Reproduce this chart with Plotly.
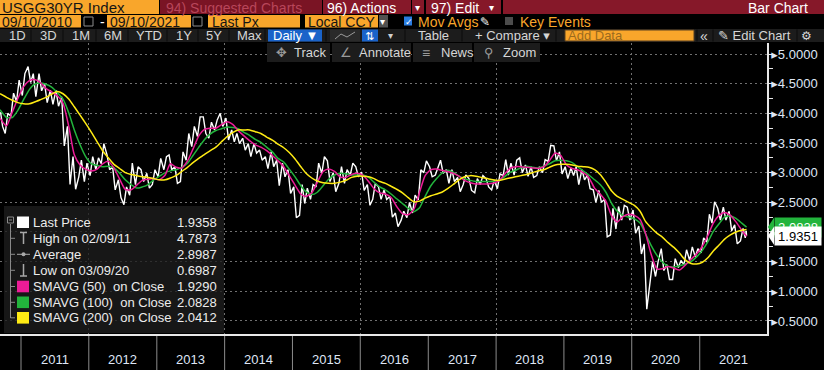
import plotly.graph_objects as go
import pandas as pd

# ---------------- data ----------------
months = [p.strftime("%Y-%m") for p in pd.period_range("2010-09", "2021-09", freq="M")]

px_high = [4.02, 4.00, 4.34, 4.56, 4.67, 4.7873, 4.67, 4.67, 4.50, 4.39, 4.39, 4.28,
           3.78, 3.27, 3.21, 3.16, 3.27, 3.25, 3.49, 3.30, 3.10, 2.88, 2.76, 3.16,
           3.10, 3.05, 2.99, 3.05, 3.24, 3.27, 3.30, 3.10, 3.35, 3.66, 3.78, 3.94,
           3.94, 3.85, 3.89, 4.00, 3.92, 3.72, 3.66, 3.58, 3.49, 3.49, 3.38, 3.27,
           3.35, 3.21, 3.16, 3.05, 2.76, 2.80, 2.74, 2.80, 3.16, 3.27, 3.20, 3.00,
           3.10, 3.05, 3.16, 3.10, 3.01, 2.80, 2.82, 2.76, 2.71, 2.60, 2.32, 2.35,
           2.50, 2.62, 3.05, 3.20, 3.10, 3.10, 3.21, 3.05, 3.05, 2.92, 2.96, 2.90,
           2.90, 2.95, 2.90, 2.87, 2.98, 3.22, 3.16, 3.21, 3.25, 3.13, 3.10, 3.10,
           3.22, 3.46, 3.45, 3.35, 3.10, 3.08, 3.10, 3.05, 2.96, 2.71, 2.70, 2.55,
           2.40, 2.43, 2.45, 2.42, 2.37, 2.10, 1.80, 1.50, 1.50, 1.72, 1.45, 1.55,
           1.52, 1.70, 1.75, 1.72, 1.90, 2.30, 2.51, 2.40, 2.42, 2.35, 2.12, 2.06,
           2.02]
px_low = [3.78, 3.66, 3.95, 4.20, 4.30, 4.52, 4.28, 4.38, 4.18, 4.15, 4.12, 3.45,
          2.80, 2.72, 2.93, 2.85, 2.95, 3.05, 3.15, 3.05, 2.71, 2.58, 2.46, 2.62,
          2.80, 2.85, 2.74, 2.80, 2.93, 3.05, 3.05, 2.82, 2.85, 3.21, 3.44, 3.61,
          3.66, 3.58, 3.72, 3.78, 3.55, 3.52, 3.49, 3.38, 3.27, 3.33, 3.21, 3.07,
          3.10, 2.78, 2.93, 2.65, 2.24, 2.28, 2.48, 2.55, 2.76, 2.99, 2.85, 2.68,
          2.82, 2.82, 2.96, 2.93, 2.70, 2.45, 2.55, 2.55, 2.55, 2.25, 2.09, 2.20,
          2.24, 2.32, 2.54, 3.00, 2.93, 2.96, 2.99, 2.82, 2.85, 2.68, 2.80, 2.70,
          2.66, 2.80, 2.76, 2.71, 2.73, 2.95, 2.96, 2.96, 3.00, 2.94, 2.92, 2.95,
          3.00, 3.19, 3.20, 2.98, 2.90, 2.95, 2.80, 2.88, 2.73, 2.50, 2.50, 1.92,
          1.95, 2.05, 2.20, 2.20, 1.98, 1.63, 0.6987, 1.18, 1.25, 1.35, 1.20, 1.20,
          1.40, 1.45, 1.52, 1.58, 1.65, 1.83, 2.15, 2.20, 2.20, 2.02, 1.80, 1.85,
          1.90]
last_date = "2021-09-10"
last_price = 1.9358

sma50 = [3.92, 3.79, 4.02, 4.25, 4.45, 4.55, 4.57, 4.52, 4.42, 4.36, 4.30, 4.17,
         3.78, 3.30, 3.13, 3.06, 3.03, 3.06, 3.15, 3.19, 3.08, 2.89, 2.72, 2.71,
         2.79, 2.87, 2.89, 2.90, 2.88, 2.96, 3.15, 3.09, 3.08, 3.20, 3.40, 3.62,
         3.73, 3.75, 3.75, 3.81, 3.86, 3.81, 3.71, 3.62, 3.54, 3.47, 3.43, 3.37,
         3.29, 3.20, 3.10, 2.95, 2.79, 2.64, 2.60, 2.66, 2.84, 3.02, 3.06, 3.02,
         2.93, 2.92, 2.97, 2.99, 2.96, 2.85, 2.73, 2.66, 2.64, 2.58, 2.43, 2.31,
         2.29, 2.38, 2.67, 2.95, 3.05, 3.06, 3.04, 3.02, 2.99, 2.94, 2.87, 2.83,
         2.81, 2.81, 2.81, 2.82, 2.86, 2.97, 3.07, 3.10, 3.10, 3.09, 3.08, 3.07,
         3.10, 3.20, 3.33, 3.29, 3.13, 3.07, 3.05, 3.00, 2.92, 2.74, 2.64, 2.52,
         2.27, 2.17, 2.26, 2.30, 2.28, 2.21, 1.98, 1.62, 1.38, 1.38, 1.42, 1.39,
         1.36, 1.44, 1.54, 1.63, 1.76, 1.95, 2.15, 2.28, 2.33, 2.28, 2.17, 2.03,
         1.929]
sma100 = [4.06, 3.93, 3.93, 4.05, 4.23, 4.40, 4.49, 4.51, 4.49, 4.44, 4.35, 4.24,
          4.01, 3.72, 3.47, 3.27, 3.15, 3.12, 3.10, 3.11, 3.08, 2.99, 2.88, 2.80,
          2.74, 2.76, 2.80, 2.88, 2.94, 3.00, 3.03, 3.05, 3.09, 3.16, 3.29, 3.43,
          3.56, 3.65, 3.71, 3.74, 3.77, 3.76, 3.74, 3.68, 3.63, 3.56, 3.51, 3.43,
          3.35, 3.24, 3.18, 3.06, 2.93, 2.78, 2.68, 2.63, 2.67, 2.78, 2.89, 2.96,
          2.99, 2.98, 2.96, 2.96, 2.96, 2.92, 2.84, 2.76, 2.71, 2.64, 2.56, 2.48,
          2.40, 2.34, 2.41, 2.60, 2.78, 2.90, 2.99, 3.04, 3.01, 2.94, 2.90, 2.87,
          2.85, 2.85, 2.85, 2.85, 2.87, 2.93, 3.00, 3.04, 3.08, 3.11, 3.09, 3.08,
          3.11, 3.15, 3.20, 3.21, 3.20, 3.17, 3.10, 3.03, 2.96, 2.88, 2.80, 2.67,
          2.48, 2.35, 2.28, 2.25, 2.22, 2.15, 1.97, 1.77, 1.61, 1.49, 1.42, 1.41,
          1.43, 1.46, 1.50, 1.58, 1.69, 1.84, 2.01, 2.14, 2.25, 2.27, 2.23, 2.15,
          2.0828]
sma200 = [4.33, 4.27, 4.22, 4.18, 4.16, 4.16, 4.19, 4.23, 4.27, 4.32, 4.37, 4.33,
          4.24, 4.11, 3.97, 3.83, 3.68, 3.52, 3.37, 3.25, 3.14, 3.07, 3.00, 2.97,
          2.95, 2.93, 2.92, 2.90, 2.88, 2.88, 2.91, 2.95, 3.02, 3.09, 3.17, 3.24,
          3.31, 3.37, 3.43, 3.52, 3.61, 3.68, 3.72, 3.72, 3.72, 3.69, 3.66, 3.60,
          3.55, 3.48, 3.42, 3.34, 3.23, 3.10, 2.99, 2.91, 2.86, 2.83, 2.82, 2.82,
          2.84, 2.87, 2.92, 2.94, 2.94, 2.93, 2.90, 2.85, 2.82, 2.77, 2.72, 2.66,
          2.58, 2.51, 2.52, 2.57, 2.61, 2.64, 2.67, 2.73, 2.80, 2.88, 2.93, 2.95,
          2.94, 2.92, 2.90, 2.88, 2.87, 2.89, 2.91, 2.93, 2.95, 2.97, 3.00, 3.03,
          3.05, 3.09, 3.13, 3.14, 3.14, 3.13, 3.11, 3.10, 3.09, 3.05, 2.97, 2.84,
          2.69, 2.60, 2.55, 2.50, 2.45, 2.35, 2.18, 2.07, 1.98, 1.91, 1.82, 1.74,
          1.64, 1.53, 1.47, 1.46, 1.49, 1.57, 1.68, 1.78, 1.88, 1.95, 2.00, 2.03,
          2.0412]

year_labels = [str(y) for y in range(2011, 2022)]
y_ticks = [0.5, 1.0, 1.5, 2.0, 2.5, 3.0, 3.5, 4.0, 4.5, 5.0]
grid_years = ["2012", "2014", "2016", "2018", "2020"]

legend_names = ["Last Price", "High on 02/09/11", "Average", "Low on 03/09/20",
                "SMAVG (50)\u00a0\u00a0on Close", "SMAVG (100)\u00a0\u00a0on Close",
                "SMAVG (200)\u00a0\u00a0on Close"]
legend_values = ["1.9358", "4.7873", "2.8987", "0.6987", "1.9290", "2.0828", "2.0412"]
axis_last_label = "1.9351"
axis_sma_label = "2.0828"
axis_last_value = 1.9351
axis_sma_value = 2.0828

# ---------------- styling ----------------
FONT = "Liberation Sans, Arial, DejaVu Sans, sans-serif"
ORANGE = "#F9A62B"
MAROON = "#861829"
C50, C100, C200 = "#EC1C97", "#22B43C", "#FFEB14"
TXT = "#dfe6f5"
W, H = 824, 370
PL, PR, PT, PB = 0, 767, 43, 334  # plot area in pixels
Y0, Y1 = 0.2807, 5.1854


def fx(x):
    return (x - PL) / (PR - PL)


def fy(y):
    return (PB - y) / (PB - PT)


shapes, annos = [], []


def rect(x0, y0, x1, y1, fill, line=None, lw=0):
    shapes.append(dict(type="rect", xref="paper", yref="paper",
                       x0=fx(x0), x1=fx(x1), y0=fy(y1), y1=fy(y0),
                       fillcolor=fill, line=dict(color=line or fill, width=lw),
                       layer="above"))


def seg(x0, y0, x1, y1, color, w=1, dash=None):
    shapes.append(dict(type="line", xref="paper", yref="paper",
                       x0=fx(x0), x1=fx(x1), y0=fy(y0), y1=fy(y1),
                       line=dict(color=color, width=w, dash=dash), layer="above"))


def poly(pts, fill):
    p = "M " + " L ".join(f"{fx(x)},{fy(y)}" for x, y in pts) + " Z"
    shapes.append(dict(type="path", xref="paper", yref="paper", path=p,
                       fillcolor=fill, line=dict(width=0), layer="above"))


def text(t, x, y, color, size=13, anchor="left"):
    annos.append(dict(xref="paper", yref="paper", x=fx(x), y=fy(y), text=t,
                      showarrow=False, xanchor=anchor, yanchor="middle",
                      font=dict(family=FONT, size=size, color=color)))


# ---------------- traces ----------------
n = len(months)
mids = [(h + l) / 2 for h, l in zip(px_high, px_low)]
price_x, price_y = [], []
for i, m in enumerate(months):
    start = pd.Timestamp(m + "-01")
    if i == 0:
        days = (12, 23)
    elif i == n - 1:
        days = (2, 7)
    else:
        days = (7, 21)
    prev_mid = mids[i - 1] if i > 0 else mids[i]
    next_mid = mids[i + 1] if i < n - 1 else mids[i]
    pair = (px_low[i], px_high[i]) if next_mid >= prev_mid else (px_high[i], px_low[i])
    for d, v in zip(days, pair):
        price_x.append(start + pd.Timedelta(days=d))
        price_y.append(v)
price_x.append(pd.Timestamp(last_date))
price_y.append(last_price)

ma_dates = ["2010-09-10"] + [m + "-15" for m in months[1:-1]] + [last_date]

fig = go.Figure()
fig.add_trace(go.Scatter(x=price_x, y=price_y, mode="lines",
                         line=dict(color="#ffffff", width=1.4), hoverinfo="skip"))
for vals, col in ((sma100, C100), (sma50, C50), (sma200, C200)):
    fig.add_trace(go.Scatter(x=ma_dates, y=vals, mode="lines",
                             line=dict(color=col, width=1.5, shape="spline", smoothing=0.6),
                             hoverinfo="skip"))

# ---------------- x axis decorations ----------------
for y in year_labels:
    shapes.append(dict(type="line", xref="x", yref="paper", x0=f"{y}-01-01", x1=f"{y}-01-01",
                       y0=-(H - PB) / (PB - PT), y1=-2 / (PB - PT),
                       line=dict(color="#8c8c8c", width=1), layer="above"))
    annos.append(dict(xref="x", yref="paper", x=f"{y}-07-02", y=0, yshift=-16,
                      text=y, showarrow=False, xanchor="center", yanchor="top",
                      font=dict(family=FONT, size=13, color=TXT)))

# ---------------- toolbar ----------------
# row 1
rect(0, 0, 159, 14, ORANGE)
rect(160, 0, 322, 14, "#7A1424")
rect(323, 0, 411, 14, MAROON)
rect(412, 0, 424, 14, MAROON)
rect(426, 0, 501, 14, MAROON)
rect(503, 0, 824, 14, MAROON)
text("USGG30YR Index", 0, 7.5, "#151515", 15)
text("94) Suggested Charts", 164, 7.5, "#b8465a", 14)
text("96) Actions", 325, 7.5, "#ffffff", 14)
text("▾", 413, 7.5, "#ffffff", 10)
text("97) Edit", 429, 7.5, "#ffffff", 14)
text("▾", 487, 7.5, "#ffffff", 10)
text("Bar Chart", 810, 7.5, "#ffffff", 14, anchor="right")
# row 2
rect(0, 15, 81, 27.5, ORANGE)
rect(107, 15, 191, 27.5, ORANGE)
rect(208, 15, 300, 27.5, ORANGE)
rect(305, 15, 378, 27.5, ORANGE)
rect(379, 15, 388, 27.5, "#505050")
rect(84, 17, 93, 26, "rgba(0,0,0,0)", "#8c8c8c", 1)
rect(193, 17, 202, 26, "rgba(0,0,0,0)", "#8c8c8c", 1)
rect(404, 16.5, 412, 25.5, "#2a7de1")
rect(505, 17, 513, 25, "#4c4c4c")
text("09/10/2010", 0, 21.5, "#151515", 14)
text("-", 98, 21.5, "#ffffff", 14)
text("09/10/2021", 108, 21.5, "#151515", 14)
text("Last Px", 210, 21.5, "#151515", 14)
text("Local CCY", 306, 21.5, "#151515", 14)
text("▾", 378, 21.5, "#ffffff", 10)
text("✓", 403, 21.5, "#ffffff", 9)
text("Mov Avgs", 416, 21.5, ORANGE, 14)
text("✎", 478, 21.5, "#ffffff", 12)
text("Key Events", 518, 21.5, ORANGE, 14)
# row 3
rect(0, 29, 824, 42, "#1c1c1c")
for lbl, x in (("1D", 7), ("3D", 38), ("1M", 70), ("6M", 102), ("YTD", 134),
               ("1Y", 174), ("5Y", 204), ("Max", 235)):
    text(lbl, x, 35.5, "#d6d6d6", 13)
rect(268, 29.5, 322, 41.5, "#1a63c9")
text("Daily ▼", 271, 35.5, "#ffffff", 13)
rect(330, 29.5, 360, 41.5, "#2a2a2a")
rect(362, 29.5, 378, 41.5, "#1a63c9")
text("⇅", 363, 35.5, "#ffffff", 11)
text("▾", 386, 35.5, "#cfcfcf", 10)
text("Table", 416, 35.5, "#d6d6d6", 13)
text("+ Compare ▾", 473, 35.5, "#d6d6d6", 13)
rect(565, 30, 694, 41, ORANGE, "#5a4020", 1)
text("Add Data", 566, 35.5, "#9a6a1e", 13)
text("«", 698, 35.5, "#d6d6d6", 14)
text("✎ Edit Chart", 716, 35.5, "#d6d6d6", 13)
text("⚙", 799, 35.5, "#d6d6d6", 12)
for xs in (31, 63, 96, 128, 167, 198, 229, 265, 326, 405, 462, 556, 697, 713, 797):
    seg(xs, 29.5, xs, 41.5, "#0a0a0a", 1)
shapes.append(dict(type="path", xref="paper", yref="paper",
                   path="M {},{} L {},{} L {},{} L {},{}".format(
                       fx(335), fy(39), fx(341), fy(34), fx(347), fy(37), fx(355), fy(32)),
                   line=dict(color="#9a9a9a", width=1), layer="above"))
# row 4 buttons
for x0, x1 in ((267, 330), (332, 411), (413, 472), (474, 540)):
    rect(x0, 43, x1, 62, "#1c1c1c")
text("✥", 274, 52.5, "#9a9a9a", 13)
text("Track", 292, 52.5, "#d6d6d6", 13)
text("∠", 338, 52.5, "#9a9a9a", 13)
text("Annotate", 357, 52.5, "#d6d6d6", 13)
text("≡", 420, 52.5, "#9a9a9a", 14)
text("News", 439, 52.5, "#d6d6d6", 13)
text("⚲", 482, 52.5, "#9a9a9a", 13)
text("Zoom", 501, 52.5, "#d6d6d6", 13)

# ---------------- legend box ----------------
rect(4, 206, 224, 333, "rgba(30,30,30,0.78)")
row_y = [222.3, 238.3, 254.3, 270.3, 286.5, 302.3, 317.8]
for nm, val, y in zip(legend_names, legend_values, row_y):
    text(nm, 31, y, "#ececec", 13)
    text(val, 219, y, "#ececec", 13, anchor="right")
rect(7.5, 217, 13.5, 223, "rgba(0,0,0,0)", "#8a8a8a", 1)
seg(9, 220, 12, 220, "#8a8a8a")
seg(10.5, 224, 10.5, 318, "#8a8a8a")
for y in row_y[1:]:
    seg(10.5, y, 15, y, "#8a8a8a")
rect(17, 216.5, 29, 228, "#ffffff")
seg(20, 232.5, 27, 232.5, "#a8a8a8", 1.5)
seg(23.5, 232.5, 23.5, 244, "#a8a8a8", 1.5)
seg(17, 254.3, 30, 254.3, "#a8a8a8", 1)
shapes.append(dict(type="circle", xref="paper", yref="paper", x0=fx(21.5), x1=fx(25.5),
                   y0=fy(256.3), y1=fy(252.3), fillcolor="#a8a8a8",
                   line=dict(width=0), layer="above"))
seg(23.5, 264, 23.5, 276, "#a8a8a8", 1.5)
seg(20, 276, 27, 276, "#a8a8a8", 1.5)
for col, y in ((C50, row_y[4]), (C100, row_y[5]), (C200, row_y[6])):
    rect(17, y - 5.8, 29, y + 5.8, col)


# ---------------- right axis value labels ----------------
def ypix(v):
    return PT + (Y1 - v) / (Y1 - Y0) * (PB - PT)


ys = ypix(axis_sma_value)
yl = ypix(axis_last_value)
poly([(768, ys), (774, ys - 9.5), (774, ys + 9.5)], C100)
poly([(768, yl), (774, yl - 9), (774, yl + 9)], "#ffffff")
annos.append(dict(xref="paper", yref="y", x=fx(773.5), y=axis_sma_value, text=axis_sma_label,
                  showarrow=False, xanchor="left", yanchor="middle", bgcolor=C100,
                  width=44, height=17, borderpad=1, align="center",
                  font=dict(family=FONT, size=13, color="#ffffff")))
annos.append(dict(xref="paper", yref="y", x=fx(773.5), y=axis_last_value, text=axis_last_label,
                  showarrow=False, xanchor="left", yanchor="middle", bgcolor="#ffffff",
                  width=44, height=16, borderpad=1, align="center",
                  font=dict(family=FONT, size=13, color="#000000")))

fig.update_layout(
    width=W, height=H, autosize=False,
    paper_bgcolor="#000000", plot_bgcolor="#000000",
    margin=dict(l=PL, r=W - PR, t=PT, b=H - PB, pad=0),
    showlegend=False, hovermode=False,
    shapes=shapes, annotations=annos,
    xaxis=dict(type="date", range=["2010-09-10", "2021-12-29"],
               tickvals=[f"{y}-01-01" for y in grid_years], showticklabels=False, ticks="",
               showgrid=True, gridcolor="#707070", griddash="2px,3px", gridwidth=1,
               showline=True, linecolor="#e8e8e8", linewidth=2, zeroline=False,
               fixedrange=True),
    yaxis=dict(side="right", range=[Y0, Y1], tickvals=y_ticks,
               ticktext=["\u25b8" + f"{v:.4f}" for v in y_ticks], ticks="",
               showgrid=True, gridcolor="#707070", griddash="2px,3px", gridwidth=1,
               showline=True, linecolor="#e8e8e8", linewidth=1.5, zeroline=False,
               tickfont=dict(family=FONT, size=13, color=TXT), automargin=False,
               minor=dict(tick0=0.25, dtick=0.25, ticks="outside", ticklen=4,
                          tickcolor="#e8e8e8", showgrid=False),
               fixedrange=True),
)

fig.write_html("out.html", config={"displayModeBar": False},
               post_script="document.body.style.margin='0px';document.body.style.background='#000';")
